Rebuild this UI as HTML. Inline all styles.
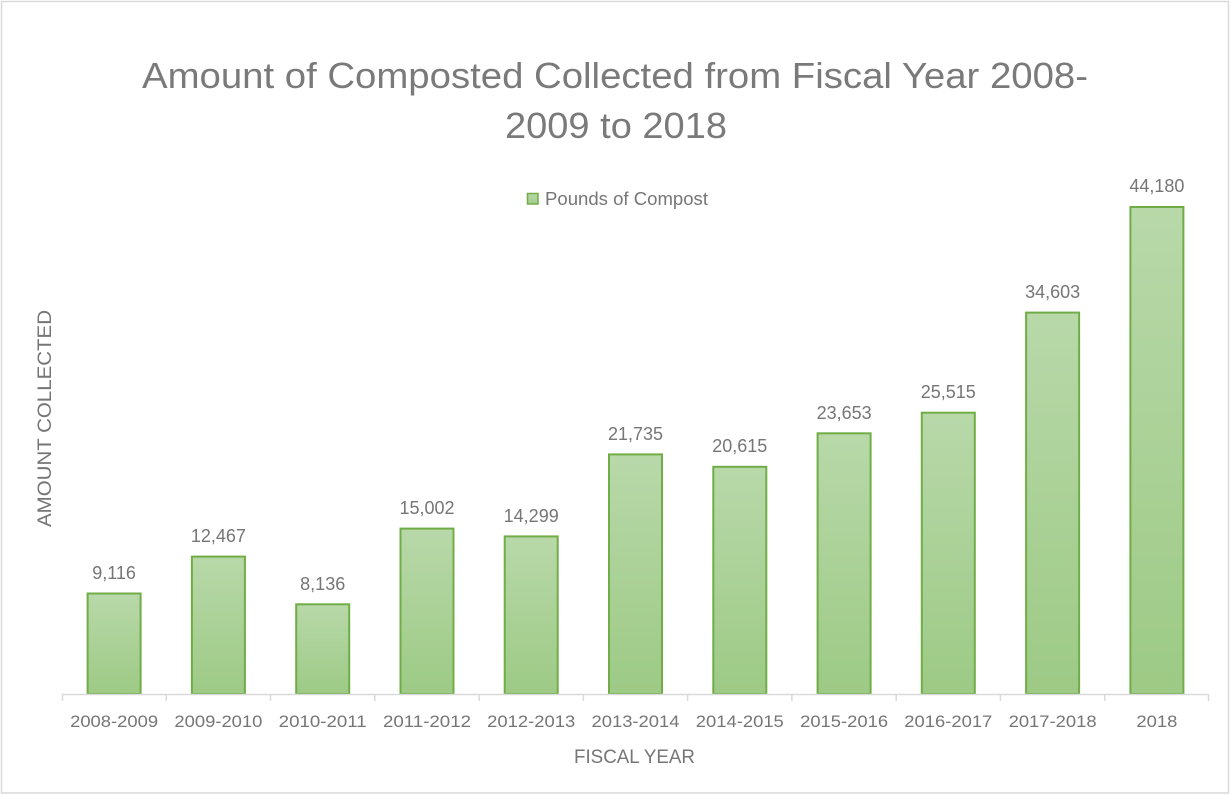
<!DOCTYPE html>
<html>
<head>
<meta charset="utf-8">
<style>
  html,body{margin:0;padding:0;background:#fff;}
  svg{display:block;}
  text{font-family:"Liberation Sans",sans-serif;fill:#767676;}
</style>
</head>
<body>
<svg width="1231" height="795" viewBox="0 0 1231 795" xmlns="http://www.w3.org/2000/svg">
  <defs>
    <linearGradient id="g" x1="0" y1="0" x2="0" y2="1">
      <stop offset="0" stop-color="#b8d8a9"/>
      <stop offset="1" stop-color="#9dca85"/>
    </linearGradient>
    <linearGradient id="gl" x1="0" y1="0" x2="0" y2="1">
      <stop offset="0" stop-color="#b8d8a9"/>
      <stop offset="1" stop-color="#a3cd8c"/>
    </linearGradient>
  </defs>
  <rect x="0" y="0" width="1231" height="795" fill="#fff"/>
  <rect x="1.5" y="1.5" width="1227" height="791.5" fill="#fff" stroke="#d9d9d9" stroke-width="1.5"/>

  <!-- Title -->
  <text x="615" y="88" font-size="36" text-anchor="middle" textLength="946" lengthAdjust="spacingAndGlyphs" style="fill:#7a7a7a">Amount of Composted Collected from Fiscal Year 2008-</text>
  <text x="616" y="138" font-size="36" text-anchor="middle" textLength="222" lengthAdjust="spacingAndGlyphs" style="fill:#7a7a7a">2009 to 2018</text>

  <!-- Legend -->
  <rect x="527.5" y="193.5" width="10.5" height="10.5" fill="url(#gl)" stroke="#70ad47" stroke-width="1.5"/>
  <text x="545" y="205" font-size="18" textLength="163" lengthAdjust="spacingAndGlyphs">Pounds of Compost</text>

  <!-- Bars -->
  <g fill="url(#g)" stroke="#70ad47" stroke-width="2">
    <rect x="87.6" y="593.5" width="53" height="100.5"/>
    <rect x="191.9" y="556.6" width="53" height="137.4"/>
    <rect x="296.2" y="604.3" width="53" height="89.7"/>
    <rect x="400.5" y="528.6" width="53" height="165.4"/>
    <rect x="504.7" y="536.4" width="53" height="157.6"/>
    <rect x="609.0" y="454.4" width="53" height="239.6"/>
    <rect x="713.3" y="466.8" width="53" height="227.2"/>
    <rect x="817.6" y="433.3" width="53" height="260.7"/>
    <rect x="921.8" y="412.7" width="53" height="281.3"/>
    <rect x="1026.1" y="312.6" width="53" height="381.4"/>
    <rect x="1130.4" y="207.0" width="53" height="487.0"/>
  </g>

  <!-- Axis -->
  <g stroke="#d9d9d9" stroke-width="1.5" fill="none">
    <line x1="62" y1="694.5" x2="1209" y2="694.5"/>
    <line x1="62.5" y1="694" x2="62.5" y2="701"/>
    <line x1="166.3" y1="694" x2="166.3" y2="701"/>
    <line x1="270.5" y1="694" x2="270.5" y2="701"/>
    <line x1="374.8" y1="694" x2="374.8" y2="701"/>
    <line x1="479.1" y1="694" x2="479.1" y2="701"/>
    <line x1="583.4" y1="694" x2="583.4" y2="701"/>
    <line x1="687.6" y1="694" x2="687.6" y2="701"/>
    <line x1="791.9" y1="694" x2="791.9" y2="701"/>
    <line x1="896.2" y1="694" x2="896.2" y2="701"/>
    <line x1="1000.4" y1="694" x2="1000.4" y2="701"/>
    <line x1="1104.7" y1="694" x2="1104.7" y2="701"/>
    <line x1="1208.5" y1="694" x2="1208.5" y2="701"/>
  </g>

  <!-- Data labels -->
  <g font-size="18" text-anchor="middle">
    <text x="114.1" y="579">9,116</text>
    <text x="218.4" y="542">12,467</text>
    <text x="322.7" y="590">8,136</text>
    <text x="427.0" y="514">15,002</text>
    <text x="531.2" y="522">14,299</text>
    <text x="635.5" y="440">21,735</text>
    <text x="739.8" y="452">20,615</text>
    <text x="844.1" y="419">23,653</text>
    <text x="948.3" y="398">25,515</text>
    <text x="1052.6" y="298">34,603</text>
    <text x="1156.9" y="192">44,180</text>
  </g>

  <!-- Category labels -->
  <g font-size="17" text-anchor="middle">
    <text x="114.1" y="727" textLength="88" lengthAdjust="spacingAndGlyphs">2008-2009</text>
    <text x="218.4" y="727" textLength="88" lengthAdjust="spacingAndGlyphs">2009-2010</text>
    <text x="322.7" y="727" textLength="88" lengthAdjust="spacingAndGlyphs">2010-2011</text>
    <text x="427.0" y="727" textLength="88" lengthAdjust="spacingAndGlyphs">2011-2012</text>
    <text x="531.2" y="727" textLength="88" lengthAdjust="spacingAndGlyphs">2012-2013</text>
    <text x="635.5" y="727" textLength="88" lengthAdjust="spacingAndGlyphs">2013-2014</text>
    <text x="739.8" y="727" textLength="88" lengthAdjust="spacingAndGlyphs">2014-2015</text>
    <text x="844.1" y="727" textLength="88" lengthAdjust="spacingAndGlyphs">2015-2016</text>
    <text x="948.3" y="727" textLength="88" lengthAdjust="spacingAndGlyphs">2016-2017</text>
    <text x="1052.6" y="727" textLength="88" lengthAdjust="spacingAndGlyphs">2017-2018</text>
    <text x="1156.9" y="727" textLength="41" lengthAdjust="spacingAndGlyphs">2018</text>
  </g>

  <!-- Axis titles -->
  <text x="634.5" y="763" font-size="19" text-anchor="middle" textLength="121" lengthAdjust="spacingAndGlyphs">FISCAL YEAR</text>
  <text transform="translate(51,418.5) rotate(-90)" x="0" y="0" font-size="19" text-anchor="middle" textLength="217" lengthAdjust="spacingAndGlyphs">AMOUNT COLLECTED</text>
</svg>
</body>
</html>
